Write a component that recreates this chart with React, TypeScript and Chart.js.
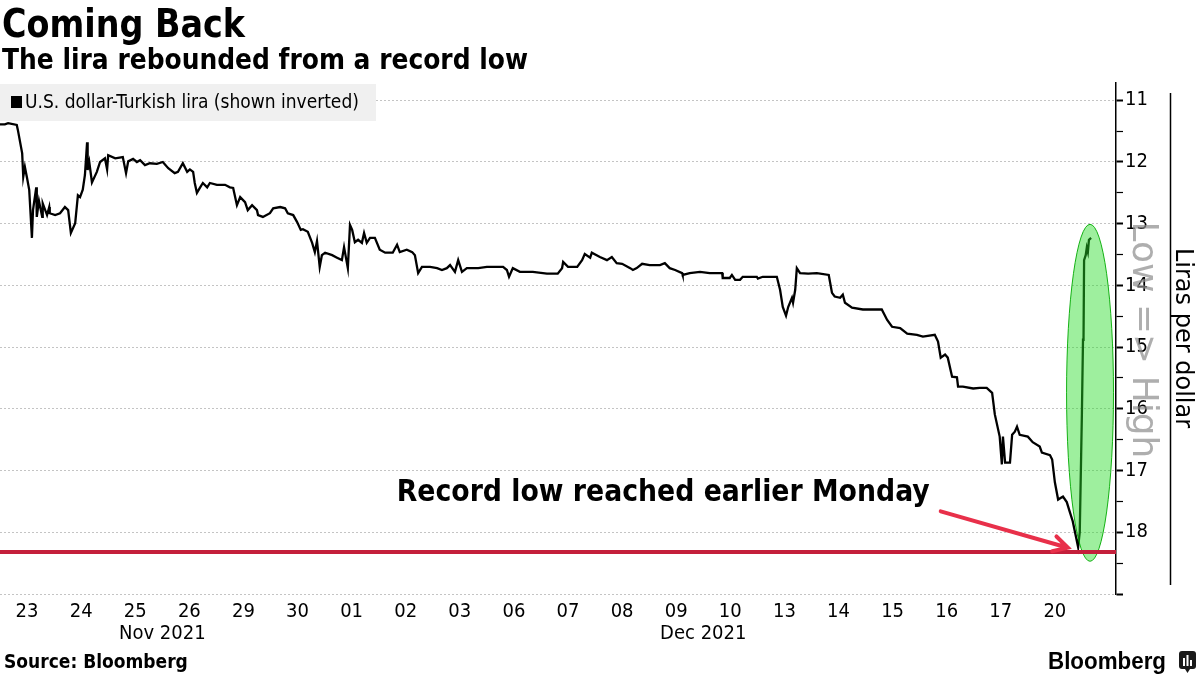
import React, { useEffect, useRef } from "react";
import { Chart, registerables } from "chart.js";

Chart.register(...registerables);

const FONT = "'DejaVu Sans Condensed', 'DejaVu Sans', sans-serif";

const title = "Coming Back";
const subtitle = "The lira rebounded from a record low";
const legendLabel = "U.S. dollar-Turkish lira (shown inverted)";
const axisTitle = "Liras per dollar";
const directionNote = "Low => High";
const annotationText = "Record low reached earlier Monday";
const sourceText = "Source: Bloomberg";
const brandText = "Bloomberg";

// trading days (each occupies one unit on the x scale)
const dayLabels = ["23", "24", "25", "26", "29", "30", "01", "02", "03", "06", "07", "08", "09", "10", "13", "14", "15", "16", "17", "20"];
const monthLabels = ["Nov 2021", "Dec 2021"];
const monthAt = [3, 13];

const yTicks = [11, 11.5, 12, 12.5, 13, 13.5, 14, 14.5, 15, 15.5, 16, 16.5, 17, 17.5, 18, 18.5, 19];
const yLabelled = [11, 12, 13, 14, 15, 16, 17, 18];

// time in trading-day units since the open of 23 Nov 2021
const times = [
  0.00, 0.09, 0.15, 0.31, 0.33, 0.41, 0.43, 0.46, 0.50, 0.54, 0.59, 0.61, 0.67, 0.68, 0.72, 0.78, 0.79, 0.87, 0.91, 0.92,
  1.02, 1.11, 1.20, 1.26, 1.31, 1.39, 1.44, 1.48, 1.53, 1.57, 1.61, 1.62, 1.65, 1.70, 1.79, 1.85, 1.94, 1.98, 2.00, 2.13,
  2.27, 2.33, 2.37, 2.46, 2.53, 2.59, 2.68, 2.77, 2.90, 3.01, 3.11, 3.23, 3.29, 3.38, 3.46, 3.51, 3.57, 3.60, 3.64, 3.70,
  3.75, 3.83, 3.88, 4.01, 4.16, 4.25, 4.31, 4.38, 4.44, 4.53, 4.58, 4.66, 4.75, 4.77, 4.86, 4.99,
  5.05, 5.18, 5.27, 5.32, 5.42, 5.49, 5.56, 5.60, 5.69, 5.77, 5.82, 5.86, 5.91, 5.95, 6.01, 6.14, 6.23, 6.32, 6.36, 6.43,
  6.47, 6.51, 6.56, 6.62, 6.69, 6.73, 6.78, 6.84, 6.93, 7.02, 7.12, 7.26, 7.34, 7.39, 7.52, 7.62, 7.67, 7.73, 7.80, 7.95,
  8.08, 8.17, 8.26, 8.32, 8.41, 8.47, 8.54, 8.63, 8.74, 8.84, 9.00, 9.30, 9.37, 9.41, 9.48, 9.61, 9.85, 10.11, 10.31,
  10.39, 10.41, 10.50, 10.67, 10.76, 10.81, 10.91, 10.94, 11.09, 11.22, 11.31, 11.40, 11.50, 11.65, 11.70, 11.77, 11.87,
  12.01, 12.20, 12.29, 12.38, 12.48, 12.61, 12.62, 12.75, 12.94, 13.12, 13.35, 13.36, 13.49, 13.53, 13.59, 13.68, 13.73,
  13.99, 14.01, 14.10, 14.36, 14.42, 14.47, 14.53, 14.57, 14.64, 14.66, 14.70, 14.73, 14.79, 14.94, 15.10, 15.32,
  15.38, 15.43, 15.53, 15.58, 15.62, 15.75, 15.95, 16.30, 16.40, 16.49, 16.64, 16.77, 16.95, 17.06, 17.28, 17.34, 17.39,
  17.47, 17.52, 17.60, 17.69, 17.71, 17.80, 17.99, 18.11, 18.24, 18.34, 18.39, 18.48, 18.52, 18.54, 18.58, 18.67, 18.71,
  18.76, 18.80, 18.85, 19.00, 19.09, 19.22, 19.26, 19.41, 19.45, 19.50, 19.56, 19.65, 19.72, 19.78, 19.83, 19.93, 19.96,
  20.00, 20.02, 20.03, 20.04, 20.07, 20.09, 20.11, 20.13, 20.17,
];

// USD/TRY, liras per dollar
const rates = [
  11.39, 11.39, 11.37, 11.40, 11.48, 11.86, 12.24, 12.08, 12.26, 12.45, 13.23, 12.78, 12.41, 12.89, 12.63, 12.89, 12.67, 12.86, 12.73, 12.83,
  12.86, 12.83, 12.73, 12.78, 13.15, 12.99, 12.54, 12.57, 12.45, 12.21, 11.68, 12.13, 12.00, 12.33, 12.16, 12.00, 11.94, 12.12, 11.89, 11.94,
  11.92, 12.18, 11.99, 11.95, 12.00, 11.97, 12.05, 12.02, 12.03, 12.00, 12.10, 12.18, 12.16, 12.02, 12.16, 12.12, 12.16, 12.34, 12.50, 12.41,
  12.34, 12.41, 12.34, 12.37, 12.37, 12.41, 12.42, 12.70, 12.57, 12.65, 12.78, 12.70, 12.78, 12.86, 12.89, 12.83,
  12.75, 12.73, 12.75, 12.83, 12.86, 12.97, 13.10, 13.09, 13.13, 13.31, 13.46, 13.28, 13.70, 13.51, 13.47, 13.51, 13.55, 13.59, 13.38, 13.72,
  13.02, 13.10, 13.30, 13.26, 13.31, 13.15, 13.31, 13.23, 13.23, 13.42, 13.47, 13.47, 13.34, 13.46, 13.42, 13.46, 13.51, 13.80, 13.70, 13.70,
  13.72, 13.75, 13.72, 13.67, 13.78, 13.59, 13.78, 13.72, 13.72, 13.72, 13.70, 13.70, 13.75, 13.86, 13.72, 13.78, 13.78, 13.81, 13.81,
  13.72, 13.62, 13.70, 13.70, 13.59, 13.49, 13.55, 13.47, 13.54, 13.59, 13.54, 13.64, 13.65, 13.72, 13.75, 13.72, 13.65,
  13.67, 13.67, 13.64, 13.72, 13.75, 13.80, 13.83, 13.80, 13.78, 13.80, 13.80, 13.88, 13.88, 13.83, 13.91, 13.91, 13.86,
  13.86, 13.89, 13.86, 13.86, 14.07, 14.35, 14.49, 14.35, 14.20, 14.28, 14.07, 13.72, 13.80, 13.81, 13.80, 13.83,
  14.12, 14.18, 14.20, 14.15, 14.28, 14.36, 14.39, 14.39, 14.56, 14.67, 14.69, 14.78, 14.80, 14.83, 14.80, 14.91, 15.17,
  15.12, 15.17, 15.48, 15.49, 15.64, 15.64, 15.67, 15.66, 15.66, 15.74, 16.09, 16.45, 16.90, 16.45, 16.87, 16.87, 16.42,
  16.37, 16.29, 16.42, 16.45, 16.54, 16.61, 16.71, 16.75, 16.82, 17.19, 17.47, 17.42, 17.51, 17.68, 17.82, 18.24, 18.00,
  16.06, 14.88, 14.83, 13.59, 13.51, 13.39, 13.46, 13.26, 13.23,
];

const recordLow = 18.32;

// annotation anchors, in data units
const arrowFrom = { x: 17.39, y: 17.66 };
const arrowTo = { x: 19.74, y: 18.25 };
const noteAt = { x: 12.26, y: 17.5 };
const ellipseCenter = { x: 20.15, y: 15.74 };
const ellipseRadius = { x: 0.434, y: 2.73 };

const overlayPlugin = {
  id: "overlay",
  beforeDatasetsDraw(chart: any) {
    const ctx = chart.ctx;
    ctx.save();
    ctx.fillStyle = "#f0f0f0";
    ctx.fillRect(0, 84, 376, 37);
    ctx.fillStyle = "#000";
    ctx.fillRect(11, 96, 11, 12);
    ctx.font = `19px ${FONT}`;
    ctx.textBaseline = "middle";
    ctx.textAlign = "left";
    ctx.fillText(legendLabel, 25, 103, 338);
    ctx.restore();
  },
  afterDatasetsDraw(chart: any) {
    const { ctx, chartArea } = chart;
    const x = chart.scales.x;
    const y = chart.scales.y;
    ctx.save();
    // highlight ellipse
    const cx = x.getPixelForValue(ellipseCenter.x);
    const cy = y.getPixelForValue(ellipseCenter.y);
    const rx = x.getPixelForValue(ellipseCenter.x + ellipseRadius.x) - cx;
    const ry = y.getPixelForValue(ellipseCenter.y + ellipseRadius.y) - cy;
    ctx.beginPath();
    ctx.ellipse(cx, cy, rx, ry, 0, 0, Math.PI * 2);
    ctx.fillStyle = "rgba(40,220,40,0.45)";
    ctx.fill();
    ctx.lineWidth = 1;
    ctx.strokeStyle = "rgba(0,170,0,0.9)";
    ctx.stroke();

    // record low line
    const ry0 = y.getPixelForValue(recordLow);
    ctx.beginPath();
    ctx.moveTo(chartArea.left, ry0);
    ctx.lineTo(chartArea.right, ry0);
    ctx.lineWidth = 4;
    ctx.strokeStyle = "#c41f3b";
    ctx.stroke();

    // arrow
    const ax1 = x.getPixelForValue(arrowFrom.x);
    const ay1 = y.getPixelForValue(arrowFrom.y);
    const ax2 = x.getPixelForValue(arrowTo.x);
    const ay2 = y.getPixelForValue(arrowTo.y);
    const ang = Math.atan2(ay2 - ay1, ax2 - ax1);
    ctx.strokeStyle = "#e8304a";
    ctx.lineWidth = 4;
    ctx.lineCap = "round";
    ctx.beginPath();
    ctx.moveTo(ax1, ay1);
    ctx.lineTo(ax2, ay2);
    const hl = 16;
    ctx.moveTo(ax2 - hl * Math.cos(ang - 0.5), ay2 - hl * Math.sin(ang - 0.5));
    ctx.lineTo(ax2, ay2);
    ctx.lineTo(ax2 - hl * Math.cos(ang + 0.5), ay2 - hl * Math.sin(ang + 0.5));
    ctx.stroke();

    // annotation text
    ctx.fillStyle = "#000";
    ctx.font = `bold 30px ${FONT}`;
    ctx.textAlign = "center";
    ctx.textBaseline = "alphabetic";
    ctx.fillText(annotationText, x.getPixelForValue(noteAt.x), y.getPixelForValue(noteAt.y), 533);
    ctx.restore();
  },
  afterDraw(chart: any) {
    const { ctx } = chart;
    const x = chart.scales.x;
    ctx.save();
    ctx.fillStyle = "#000";
    ctx.textAlign = "left";
    ctx.textBaseline = "alphabetic";
    ctx.font = `bold 39px ${FONT}`;
    ctx.fillText(title, 2, 37, 243);
    ctx.font = `bold 28px ${FONT}`;
    ctx.fillText(subtitle, 2, 69, 526);

    // month labels under the day ticks
    ctx.font = `20px ${FONT}`;
    ctx.textAlign = "center";
    ctx.textBaseline = "middle";
    monthLabels.forEach((m, i) => ctx.fillText(m, x.getPixelForValue(monthAt[i]), 634));

    // axis title with its rule
    ctx.beginPath();
    ctx.moveTo(1170.5, 93);
    ctx.lineTo(1170.5, 585);
    ctx.lineWidth = 1.5;
    ctx.strokeStyle = "#000";
    ctx.stroke();
    ctx.save();
    ctx.translate(1182, 338);
    ctx.rotate(Math.PI / 2);
    ctx.font = `24px 'DejaVu Sans', sans-serif`;
    ctx.fillText(axisTitle, 0, 0);
    ctx.restore();

    // direction note
    ctx.save();
    ctx.translate(1142, 340);
    ctx.rotate(Math.PI / 2);
    ctx.font = `36px 'DejaVu Sans', sans-serif`;
    ctx.fillStyle = "rgba(140,140,140,0.7)";
    ctx.fillText(directionNote, 0, 0);
    ctx.restore();

    // footer
    ctx.textAlign = "left";
    ctx.textBaseline = "alphabetic";
    ctx.font = `bold 19px ${FONT}`;
    ctx.fillText(sourceText, 4, 668, 187);
    ctx.font = `bold 24px 'Liberation Sans', sans-serif`;
    ctx.fillText(brandText, 1048, 669, 118);
    // logo mark
    ctx.fillStyle = "#1a1a1a";
    ctx.beginPath();
    (ctx as any).roundRect(1179, 651, 17, 18, 3);
    ctx.fill();
    ctx.beginPath();
    ctx.moveTo(1185, 669);
    ctx.lineTo(1190, 669);
    ctx.lineTo(1187.5, 673);
    ctx.closePath();
    ctx.fill();
    ctx.fillStyle = "#fff";
    ctx.fillRect(1183, 658, 2, 8);
    ctx.fillRect(1186.5, 655, 2, 11);
    ctx.fillRect(1190, 660, 2, 6);
    ctx.restore();
  },
};

export default function App() {
  const canvasRef = useRef<HTMLCanvasElement | null>(null);

  useEffect(() => {
    if (!canvasRef.current) return;
    const points = times.map((t, i) => ({ x: t, y: rates[i] }));
    const chart = new Chart(canvasRef.current, {
      type: "line",
      data: {
        datasets: [
          {
            label: legendLabel,
            data: points,
            borderColor: "#000",
            borderWidth: 2.3,
            pointRadius: 0,
            tension: 0,
            fill: false,
          },
        ],
      },
      options: {
        animation: false,
        responsive: false,
        layout: { padding: { top: 83, left: 0, right: 0, bottom: 0 } },
        plugins: { legend: { display: false }, tooltip: { enabled: false } },
        scales: {
          x: {
            type: "linear",
            position: "bottom",
            min: 0,
            max: 20.63,
            grid: { display: false, drawTicks: false },
            border: { display: false },
            afterBuildTicks: (scale: any) => {
              scale.ticks = dayLabels.map((_, i) => ({ value: i + 0.5 }));
            },
            afterFit: (scale: any) => {
              scale.height = 81;
            },
            ticks: {
              autoSkip: false,
              maxRotation: 0,
              padding: 6,
              color: "#000",
              font: { family: FONT, size: 20 },
              callback: (_v: any, i: number) => dayLabels[i],
            },
          },
          y: {
            type: "linear",
            position: "right",
            reverse: true,
            min: 10.72,
            max: 19,
            afterBuildTicks: (scale: any) => {
              scale.ticks = yTicks.map((v) => ({ value: v }));
            },
            afterFit: (scale: any) => {
              scale.width = 84;
            },
            grid: {
              color: (c: any) => (c.tick && Number.isInteger(c.tick.value) ? "#c4c4c4" : "rgba(0,0,0,0)"),
              lineWidth: 1,
              drawTicks: true,
              tickLength: 7,
              tickColor: "#000",
              tickWidth: (c: any) => (c.tick && Number.isInteger(c.tick.value) ? 2 : 1.2),
            },
            border: { display: true, color: "#000", width: 1.5, dash: [2, 2] },
            ticks: {
              padding: 2,
              color: "#000",
              font: { family: FONT, size: 20 },
              callback: (v: any) => (yLabelled.includes(v) ? String(v) : ""),
            },
          },
        },
      },
      plugins: [overlayPlugin],
    });
    return () => chart.destroy();
  }, []);

  return (
    <div style={{ position: "fixed", left: 0, top: 0, width: 1200, height: 675, background: "#fff" }}>
      <canvas ref={canvasRef} width={1200} height={675} style={{ display: "block", width: 1200, height: 675 }} />
    </div>
  );
}
